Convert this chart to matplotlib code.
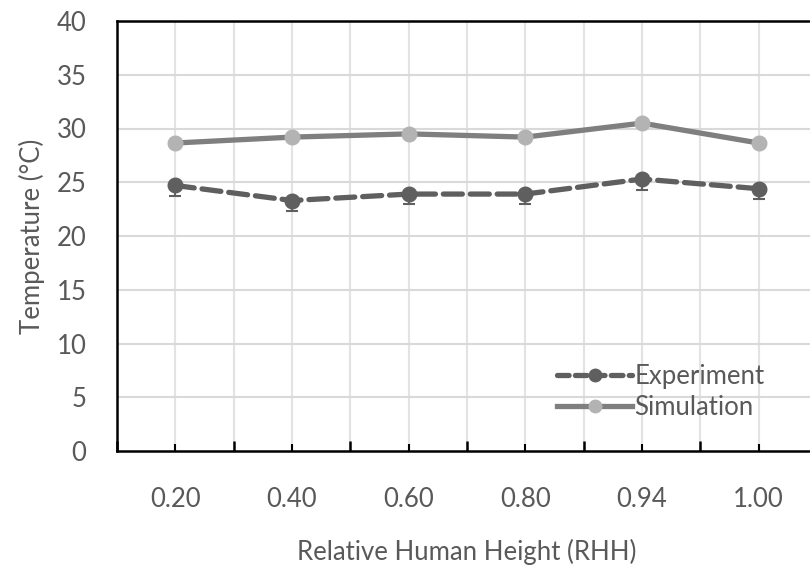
import numpy as np
import matplotlib.pyplot as plt
from matplotlib.lines import Line2D
from matplotlib.ticker import MultipleLocator, FixedLocator

# data
rhh_labels = ['0.20', '0.40', '0.60', '0.80', '0.94', '1.00']
experiment = [24.7, 23.3, 23.9, 23.9, 25.3, 24.4]
experiment_err = [1.0, 1.0, 0.95, 0.95, 1.0, 1.0]
simulation = [28.65, 29.2, 29.5, 29.2, 30.5, 28.65]

TEXT = '#595959'
EXP_C = '#5f5f5f'
SIM_C = '#7f7f7f'
SIM_M = '#b3b3b3'
plt.rcParams['font.family'] = ['Lato', 'DejaVu Sans']

fig = plt.figure(figsize=(8.1, 5.83), dpi=100)
ax = fig.add_axes([117 / 810, 1 - 451 / 583, 700 / 810, 430 / 583])

x = np.arange(len(rhh_labels))

# gridlines at category centres and boundaries
for xv in np.arange(-0.5, len(x) + 0.5, 0.5):
    ax.axvline(xv, color='#e3e3e3', lw=1.5, zorder=0)
for yv in range(5, 40, 5):
    ax.axhline(yv, color='#d9d9d9', lw=1.5, zorder=0)

dash = (0, (3.6, 1.5))
ax.plot(x, simulation, color=SIM_C, lw=3.8, marker='o', markersize=10.5,
        markerfacecolor=SIM_M, markeredgecolor=SIM_M, zorder=3)
ax.errorbar(x, experiment, yerr=[experiment_err, [0] * len(x)], color=EXP_C, lw=3.8,
            ls=dash, dash_capstyle='round', marker='o', markersize=10.5, ecolor=EXP_C,
            elinewidth=1.5, capsize=4.5, capthick=1.5, zorder=4)

ax.set_xlim(-0.5, len(x) - 0.5)
ax.set_ylim(0, 40)
ax.yaxis.set_major_locator(MultipleLocator(5))
ax.set_xticks(x)
ax.set_xticklabels(rhh_labels)
ax.xaxis.set_minor_locator(FixedLocator(np.arange(-0.5, len(x), 1.0)))

ax.tick_params(axis='x', which='major', direction='in', length=5, width=1.5,
               color='black', pad=26, labelsize=18.5, labelcolor=TEXT)
ax.tick_params(axis='x', which='minor', direction='in', length=7, width=1.8, color='black')
ax.tick_params(axis='y', length=0, pad=22, labelsize=18.5, labelcolor=TEXT)

for s in ax.spines.values():
    s.set_color('black')
    s.set_linewidth(1.8)

ax.set_ylabel('Temperature (°C)', fontsize=18.5, color=TEXT, labelpad=8)
ax.set_xlabel('Relative Human Height (RHH)', fontsize=18.5, color=TEXT, labelpad=19)

handles = [
    Line2D([], [], color=EXP_C, lw=3.8, ls=(0, (2.2, 1.2)), dash_capstyle='round',
           marker='o', markersize=9),
    Line2D([], [], color=SIM_C, lw=3.8, marker='o', markersize=9,
           markerfacecolor=SIM_M, markeredgecolor=SIM_M),
]
leg = ax.legend(handles, ['Experiment', 'Simulation'],
                loc='center left', bbox_to_anchor=(547 / 810, 1 - 392 / 583),
                bbox_transform=fig.transFigure, frameon=False, fontsize=18.5,
                handlelength=2.9, handletextpad=0.1, labelspacing=0.25, borderaxespad=0)
for t in leg.get_texts():
    t.set_color(TEXT)

fig.savefig('out.png', dpi=100)
